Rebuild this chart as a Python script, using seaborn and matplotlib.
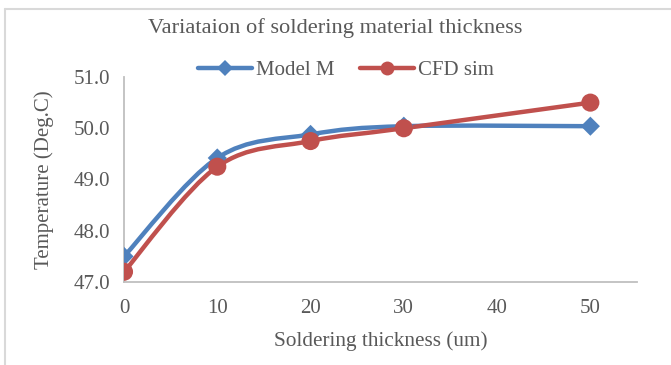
import numpy as np
import pandas as pd
import seaborn as sns
import matplotlib
matplotlib.use("Agg")
import matplotlib.pyplot as plt
from matplotlib.path import Path
from matplotlib.patches import PathPatch
from matplotlib.lines import Line2D

# Data
thickness = [0, 10, 20, 30, 50]
model_m = [47.5, 49.42, 49.88, 50.04, 50.04]
cfd_sim = [47.2, 49.25, 49.75, 50.0, 50.5]
x_ticks = [0, 10, 20, 30, 40, 50]
y_ticks = [47.0, 48.0, 49.0, 50.0, 51.0]

series_names = ["Model M", "CFD sim"]
colors = {"Model M": "#4F81BD", "CFD sim": "#C0504D"}
markers = {"Model M": "D", "CFD sim": "o"}
marker_sizes = {"Model M": 95, "CFD sim": 170}

df = pd.DataFrame({
    "thickness": thickness * 2,
    "temperature": model_m + cfd_sim,
    "series": ["Model M"] * len(thickness) + ["CFD sim"] * len(thickness),
})

sns.set_theme(style="white")
plt.rcParams["font.family"] = ["Liberation Serif", "DejaVu Serif"]
text_color = "#595959"
axis_color = "#BFBFBF"

fig = plt.figure(figsize=(6.71, 3.65), dpi=100)
ax = fig.add_axes([124 / 671, 1 - 282 / 365, (637 - 124) / 671, (282 - 77) / 365])


def smooth_path(xs, ys):
    """Cubic Bezier path through the points (Catmull-Rom style tangents)."""
    pts = np.column_stack([xs, ys]).astype(float)
    n = len(pts)
    verts = [pts[0]]
    codes = [Path.MOVETO]
    for i in range(n - 1):
        p0 = pts[max(i - 1, 0)]
        p1 = pts[i]
        p2 = pts[i + 1]
        p3 = pts[min(i + 2, n - 1)]
        c1 = p1 + (p2 - p0) / 6.0
        c2 = p2 - (p3 - p1) / 6.0
        verts += [c1, c2, p2]
        codes += [Path.CURVE4] * 3
    return Path(verts, codes)


for name in series_names:
    sub = df[df["series"] == name]
    patch = PathPatch(smooth_path(sub["thickness"], sub["temperature"]),
                      facecolor="none", edgecolor=colors[name], lw=3.2,
                      capstyle="round", joinstyle="round", zorder=2)
    ax.add_patch(patch)

for name in series_names:
    sub = df[df["series"] == name]
    sns.scatterplot(data=sub, x="thickness", y="temperature", ax=ax,
                    color=colors[name], marker=markers[name],
                    s=marker_sizes[name], edgecolor="none", zorder=3,
                    legend=False)

ax.set_xlim(0, 55)
ax.set_ylim(47.0, 51.0)
ax.set_xticks(x_ticks)
ax.set_xticklabels([str(t) for t in x_ticks])
ax.set_yticks(y_ticks)
ax.set_yticklabels([f"{t:.1f}" for t in y_ticks])
ax.tick_params(axis="both", length=0, labelsize=15, colors=text_color, pad=10)
ax.tick_params(axis="x", pad=12)

for side in ["top", "right"]:
    ax.spines[side].set_visible(False)
for side in ["left", "bottom"]:
    ax.spines[side].set_color(axis_color)
    ax.spines[side].set_linewidth(1.3)

ax.set_xlabel("Soldering thickness (um)", fontsize=15.3, color=text_color, labelpad=10)
ax.set_ylabel("Temperature (Deg.C)", fontsize=15, color=text_color, labelpad=14)

fig.text(0.5, 1 - 28 / 365, "Variataion of soldering material thickness",
         ha="center", va="center", fontsize=16.1, color=text_color)

handles = [Line2D([0], [0], color=colors[n], lw=3.2, marker=markers[n],
                  markersize=8 if n == "Model M" else 10, markeredgewidth=0)
           for n in series_names]
fig.legend(handles, series_names, loc="center", ncol=2, frameon=False,
           bbox_to_anchor=(346 / 671, 1 - 70 / 365), fontsize=15,
           labelcolor=text_color, handlelength=2.6, handletextpad=0.2,
           columnspacing=1.2)

# Chart-area border (top and left edges)
border = "#D9D9D9"
fig.add_artist(Line2D([5 / 671, 1.0], [1 - 9 / 365, 1 - 9 / 365],
                      transform=fig.transFigure, color=border, lw=1.5))
fig.add_artist(Line2D([5 / 671, 5 / 671], [0.0, 1 - 9 / 365],
                      transform=fig.transFigure, color=border, lw=1.5))

fig.savefig("out.png", dpi=100, facecolor="white")
